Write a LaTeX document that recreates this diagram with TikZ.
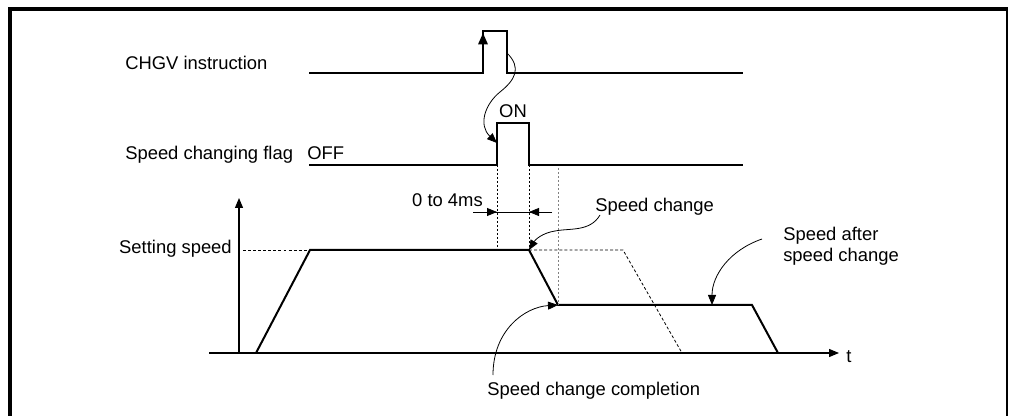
\documentclass[tikz,border=0pt]{standalone}
\usepackage{fontspec}
\setmainfont{Liberation Sans}
\usetikzlibrary{arrows.meta}
\tikzset{
  x=0.75pt, y=-0.75pt,
  lbl/.style={inner sep=0pt, font=\fontsize{13.8}{16}\selectfont},
  sig/.style={line width=1.5pt, line join=miter},
  axisline/.style={line width=0.9pt},
  dotline/.style={line width=0.6pt, dash pattern=on 1.5pt off 1.5pt},
  dashline/.style={line width=0.6pt, dash pattern=on 2.2pt off 1.6pt},
  tip/.style={-{Triangle[length=7.5pt,width=6pt]}},
  callout/.style={line width=0.6pt, tip},
  frame/.style={line width=3pt}
}
\begin{document}
\begin{tikzpicture}
\useasboundingbox (0,0) rectangle (1009,416);
% frame
\draw[frame] (10,416) -- (10,9) -- (1008,9);
\draw[line width=1.5pt] (1007,9) -- (1007,416);

% labels
\node[lbl, anchor=base west] (chgv) at (125,70) {CHGV instruction};
\node[lbl, anchor=base west] (flag) at (125,160) {Speed changing flag};
\node[lbl, anchor=base west] (off) at (307,160) {OFF};
\node[lbl, anchor=base] (on) at (513,118) {ON};
\node[lbl, anchor=base east] (ms) at (483,207) {0 to 4ms};
\node[lbl, anchor=base west] (sc) at (595,212) {Speed change};
\node[lbl, anchor=base east] (set) at (232,254) {Setting speed};
\node[lbl, anchor=base west] (after1) at (783,241) {Speed after};
\node[lbl, anchor=base west] (after2) at (783,262) {speed change};
\node[lbl, anchor=base west] (comp) at (487,395) {Speed change completion};
\node[lbl, anchor=base west] (t) at (846,362) {t};

% CHGV signal
\coordinate (c0) at (309,73);
\coordinate (c1) at (483,73);
\coordinate (c2) at (483,31);
\coordinate (c3) at (507,31);
\coordinate (c4) at (507,73);
\coordinate (c5) at (743,73);
\coordinate (c1a) at (483,33);
\draw[sig] (c0) -- (c1) -- (c2) -- (c3) -- (c4) -- (c5);
\draw[sig, -{Triangle[length=8.5pt,width=7pt]}] (c1) -- (c1a);

% flag signal
\coordinate (f0) at (309,165);
\coordinate (f1) at (497,165);
\coordinate (f2) at (497,123);
\coordinate (f3) at (529,123);
\coordinate (f4) at (529,165);
\coordinate (f5) at (743,165);
\draw[sig] (f0) -- (f1) -- (f2) -- (f3) -- (f4) -- (f5);

% curve from CHGV fall to flag rise
\coordinate (k0) at (507,53);
\coordinate (k1) at (500,92);
\coordinate (k2) at (497,143);
\draw[callout] (k0) .. controls (522,68) and (515,80) .. (k1)
  .. controls (485,104) and (478,125) .. (k2);

% axes
\coordinate (o) at (239,353);
\coordinate (ytop) at (239,198);
\coordinate (xl) at (209,353);
\coordinate (xr) at (839,353);
\draw[axisline, tip] (o) -- (ytop);
\draw[axisline, tip] (xl) -- (xr);

% speed profile
\coordinate (s0) at (256,353);
\coordinate (s1) at (310,250);
\coordinate (s2) at (529,250);
\coordinate (s3) at (558,305);
\coordinate (s4) at (752,305);
\coordinate (s5) at (778,353);
\draw[sig] (s0) -- (s1) -- (s2) -- (s3) -- (s4) -- (s5);

% dashed setting speed lines
\coordinate (sl) at (243,250);
\coordinate (p1) at (623,250);
\coordinate (p2) at (682,353);
\draw[dashline] (sl) -- (s1);
\draw[dashline] (s2) -- (p1) -- (p2);

% dotted verticals
\coordinate (d1) at (497,250);
\coordinate (d3) at (558,168);
\draw[dotline] (f1) -- (d1);
\draw[dotline] (f4) -- (s2);
\draw[dotline, gray] (d3) -- (s3);

% 0 to 4ms dimension
\coordinate (m0) at (473,212);
\coordinate (m1) at (497,212);
\coordinate (m2) at (529,212);
\coordinate (m3) at (552,212);
\draw[line width=0.6pt] (m0) -- (m3);
\draw[line width=0.6pt, tip] (m0) -- (m1);
\draw[line width=0.6pt, tip] (m3) -- (m2);

% speed change callout
\coordinate (q0) at (600,215);
\coordinate (q1) at (555,231);
\draw[callout] (q0) .. controls (590,232) and (570,228) .. (q1)
  .. controls (542,233) and (535,240) .. (s2);

% speed after callout
\coordinate (r0) at (762,239);
\coordinate (r1) at (712,305);
\draw[callout] (r0) .. controls (730,250) and (712,275) .. (r1);

% completion callout
\coordinate (u0) at (493,375);
\draw[callout] (u0) .. controls (493,330) and (525,307) .. (s3);
\end{tikzpicture}
\end{document}
